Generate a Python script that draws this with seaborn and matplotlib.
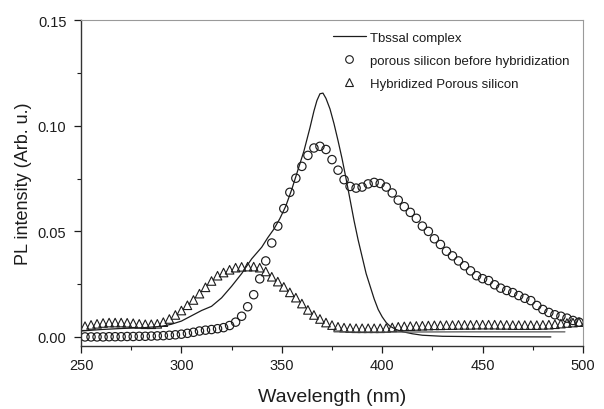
import matplotlib
matplotlib.use("Agg")
import matplotlib.pyplot as plt
import seaborn as sns
import pandas as pd
from matplotlib.lines import Line2D

# ---- data ----
tbssal_wl = [250, 260, 270, 280, 290, 295, 300, 305, 310, 315, 320, 325, 330, 335, 340,
             343, 346, 349, 352, 355, 358, 361, 364, 366, 367.5, 369, 370.5, 372, 374, 376,
             378, 380, 382, 384, 386, 388, 390, 392, 394, 396, 398, 400, 402, 404, 407,
             410, 415, 420, 430, 450, 484]
tbssal_val = [0.0028, 0.0035, 0.0040, 0.0043, 0.0050, 0.0060, 0.0075, 0.0100, 0.0125, 0.0145,
              0.0185, 0.0240, 0.0300, 0.0370, 0.0425, 0.0470, 0.0510, 0.0560, 0.0620, 0.0700,
              0.0790, 0.0880, 0.0990, 0.1070, 0.1120, 0.1152, 0.1155, 0.1130, 0.1080, 0.1010,
              0.0930, 0.0845, 0.0750, 0.0650, 0.0550, 0.0460, 0.0380, 0.0300, 0.0240, 0.0180,
              0.0130, 0.0095, 0.0068, 0.0050, 0.0035, 0.0025, 0.0015, 0.0008, 0.0003, 0.0001,
              0.0000]

trace_wl = [376, 405, 440, 491]
trace_val = [0.0024, 0.0023, 0.0024, 0.0024]

grid_wl = [252, 255, 258, 261, 264, 267, 270, 273, 276, 279, 282, 285, 288, 291, 294, 297,
           300, 303, 306, 309, 312, 315, 318, 321, 324, 327, 330, 333, 336, 339, 342, 345,
           348, 351, 354, 357, 360, 363, 366, 369, 372, 375, 378, 381, 384, 387, 390, 393,
           396, 399, 402, 405, 408, 411, 414, 417, 420, 423, 426, 429, 432, 435, 438, 441,
           444, 447, 450, 453, 456, 459, 462, 465, 468, 471, 474, 477, 480, 483, 486, 489,
           492, 495, 498]

porous_val = [0.0000, 0.0000, 0.0000, 0.0000, 0.0001, 0.0001, 0.0001, 0.0002, 0.0002, 0.0003,
              0.0003, 0.0004, 0.0005, 0.0006, 0.0008, 0.0010, 0.0013, 0.0017, 0.0022, 0.0028,
              0.0032, 0.0035, 0.0039, 0.0044, 0.0054, 0.0070, 0.0098, 0.0143, 0.0200, 0.0275,
              0.0360, 0.0445, 0.0525, 0.0608, 0.0685, 0.0752, 0.0808, 0.0860, 0.0895, 0.0903,
              0.0888, 0.0840, 0.0790, 0.0745, 0.0713, 0.0705, 0.0710, 0.0725, 0.0732, 0.0727,
              0.0710, 0.0682, 0.0648, 0.0617, 0.0590, 0.0562, 0.0525, 0.0500, 0.0465, 0.0438,
              0.0406, 0.0384, 0.0360, 0.0337, 0.0313, 0.0290, 0.0276, 0.0267, 0.0247, 0.0231,
              0.0220, 0.0210, 0.0196, 0.0183, 0.0172, 0.0149, 0.0130, 0.0116, 0.0105, 0.0098,
              0.0089, 0.0078, 0.0070]

hybrid_val = [0.0051, 0.0057, 0.0062, 0.0066, 0.0068, 0.0068, 0.0068, 0.0067, 0.0065, 0.0062,
              0.0060, 0.0060, 0.0062, 0.0070, 0.0085, 0.0104, 0.0125, 0.0150, 0.0175, 0.0205,
              0.0235, 0.0265, 0.0290, 0.0305, 0.0318, 0.0328, 0.0332, 0.0333, 0.0333, 0.0328,
              0.0310, 0.0285, 0.0262, 0.0237, 0.0211, 0.0186, 0.0158, 0.0128, 0.0104, 0.0085,
              0.0068, 0.0056, 0.0048, 0.0044, 0.0042, 0.0041, 0.0041, 0.0041, 0.0041, 0.0041,
              0.0042, 0.0045, 0.0048, 0.0050, 0.0051, 0.0052, 0.0053, 0.0054, 0.0055, 0.0055,
              0.0056, 0.0056, 0.0057, 0.0057, 0.0057, 0.0058, 0.0058, 0.0058, 0.0058, 0.0057,
              0.0057, 0.0056, 0.0056, 0.0056, 0.0056, 0.0056, 0.0057, 0.0058, 0.0060, 0.0063,
              0.0066, 0.0068, 0.0070]

labels = ["Tbssal complex", "porous silicon before hybridization", "Hybridized Porous silicon"]
x_ticks = [250, 300, 350, 400, 450, 500]
y_ticks = [0.00, 0.05, 0.10, 0.15]

# ---- plot ----
sns.set_style("ticks")
plt.rcParams['font.family'] = ['Liberation Sans', 'DejaVu Sans']
ink = "#1c1c1c"

fig = plt.figure(figsize=(6.04, 4.10), dpi=100)
ax_top, ax_bot = 21.3, 347.0
ax = fig.add_axes([81/604, 1 - ax_bot/410, 502/604, (ax_bot - ax_top)/410])

df_line = pd.DataFrame({"wl": tbssal_wl, "val": tbssal_val})
df_trace = pd.DataFrame({"wl": trace_wl, "val": trace_val})
df_pts = pd.DataFrame({"wl": grid_wl, "porous": porous_val, "hybrid": hybrid_val})

sns.lineplot(data=df_line, x="wl", y="val", ax=ax, color=ink, lw=0.9, sort=False)
sns.lineplot(data=df_trace, x="wl", y="val", ax=ax, color="#555555", lw=0.9, sort=False)
sns.scatterplot(data=df_pts, x="wl", y="porous", ax=ax, marker="o", s=36,
                facecolors="none", edgecolor=ink, linewidth=0.85)
sns.scatterplot(data=df_pts, x="wl", y="hybrid", ax=ax, marker="^", s=38,
                facecolors="none", edgecolor=ink, linewidth=0.8)

ax.set_xlim(250, 500)
ax.set_ylim(-0.0043, 0.15)
ax.set_xticks(x_ticks)
ax.set_xticklabels([str(v) for v in x_ticks])
ax.set_xticks([275, 325, 375, 425, 475], minor=True)
ax.set_yticks(y_ticks)
ax.set_yticklabels([f"{v:.2f}" for v in y_ticks])
ax.set_yticks([0.025, 0.075, 0.125], minor=True)
ax.tick_params(axis="both", which="major", direction="out", length=5, width=0.9,
               labelsize=10.5, colors=ink)
ax.tick_params(axis="y", which="major", pad=5.5)
ax.tick_params(axis="x", which="major", pad=4)
ax.tick_params(axis="both", which="minor", direction="out", length=3, width=0.8, colors=ink)

ax.set_xlabel("Wavelength (nm)", fontsize=14, color=ink, labelpad=11)
ax.set_ylabel("PL intensity (Arb. u.)", fontsize=13, color=ink, labelpad=4)

for side in ["left", "bottom"]:
    ax.spines[side].set_color("#333333")
    ax.spines[side].set_linewidth(1.0)
for side in ["top", "right"]:
    ax.spines[side].set_visible(True)
    ax.spines[side].set_color("#9a9a9a")
    ax.spines[side].set_linewidth(0.8)

handles = [
    Line2D([], [], color=ink, lw=0.9),
    Line2D([], [], color=ink, marker="o", ls="none", markersize=5.5, markerfacecolor="none", markeredgewidth=0.8),
    Line2D([], [], color=ink, marker="^", ls="none", markersize=6, markerfacecolor="none", markeredgewidth=0.8),
]
ax.legend(handles, labels, loc="upper left", bbox_to_anchor=((333 - 81) / 502, 0.965),
          frameon=False, fontsize=9.5, handlelength=2.5, handletextpad=0.3,
          labelspacing=0.8, borderpad=0, borderaxespad=0, labelcolor=ink)

fig.savefig("out.png", dpi=100)
